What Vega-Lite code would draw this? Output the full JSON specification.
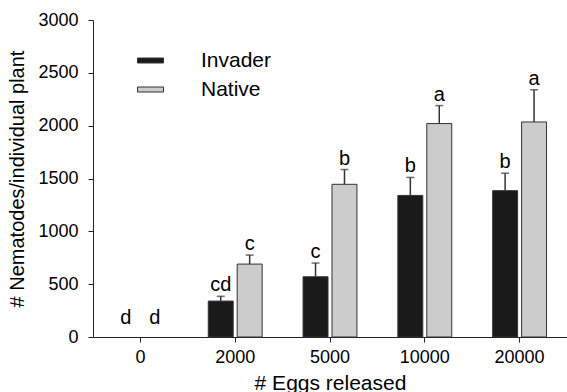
{
  "$schema": "https://vega.github.io/schema/vega-lite/v6.json",
  "width": 474,
  "height": 317,
  "autosize": {"type": "none"},
  "padding": {"left": 93, "top": 20, "right": 0, "bottom": 55},
  "background": "white",
  "config": {
    "view": {"stroke": null},
    "font": "Liberation Sans",
    "axis": {"domainColor": "#222", "tickColor": "#222", "labelColor": "#000", "titleColor": "#000", "grid": false, "labelFont": "Liberation Sans", "titleFont": "Liberation Sans", "titleFontWeight": "normal"},
    "legend": {"labelFont": "Liberation Sans"}
  },
  "data": {
    "values": [
      {"eggs": "0", "type": "Invader", "mean": 0, "upper": 0, "letter": "d", "ly": 75},
      {"eggs": "0", "type": "Native", "mean": 0, "upper": 0, "letter": "d", "ly": 75},
      {"eggs": "2000", "type": "Invader", "mean": 340, "upper": 385, "letter": "cd", "ly": 385},
      {"eggs": "2000", "type": "Native", "mean": 690, "upper": 775, "letter": "c", "ly": 775},
      {"eggs": "5000", "type": "Invader", "mean": 570, "upper": 700, "letter": "c", "ly": 700},
      {"eggs": "5000", "type": "Native", "mean": 1445, "upper": 1585, "letter": "b", "ly": 1585},
      {"eggs": "10000", "type": "Invader", "mean": 1340, "upper": 1510, "letter": "b", "ly": 1510},
      {"eggs": "10000", "type": "Native", "mean": 2020, "upper": 2190, "letter": "a", "ly": 2190},
      {"eggs": "20000", "type": "Invader", "mean": 1385, "upper": 1550, "letter": "b", "ly": 1550},
      {"eggs": "20000", "type": "Native", "mean": 2035, "upper": 2340, "letter": "a", "ly": 2340}
    ]
  },
  "encoding": {
    "x": {
      "field": "eggs", "type": "nominal", "sort": ["0", "2000", "5000", "10000", "20000"],
      "scale": {"paddingInner": 0, "paddingOuter": 0},
      "axis": {"title": "# Eggs released", "labelAngle": 0, "labelFontSize": 18, "titleFontSize": 21, "tickSize": 5, "labelPadding": 6, "titlePadding": 6, "domainWidth": 1}
    },
    "xOffset": {"field": "type", "type": "nominal", "sort": ["Invader", "Native"], "scale": {"paddingInner": 0.138, "paddingOuter": 0.707}}
  },
  "layer": [
    {
      "transform": [{"filter": "datum.mean > 0"}],
      "mark": {"type": "bar", "stroke": "#333", "strokeWidth": 1},
      "encoding": {
        "y": {"field": "mean", "type": "quantitative", "scale": {"domain": [0, 3000], "nice": false},
              "axis": {"title": "# Nematodes/individual plant", "format": "d", "values": [0, 500, 1000, 1500, 2000, 2500, 3000], "labelFontSize": 18, "titleFontSize": 20, "tickSize": 5, "labelPadding": 10, "titlePadding": 10}},
        "fill": {"field": "type", "type": "nominal", "scale": {"domain": ["Invader", "Native"], "range": ["#1a1a1a", "#cccccc"]},
                 "legend": {"title": null, "orient": "none", "legendX": 47, "legendY": 30, "symbolType": "M-2.6,-0.5H2.6V0.5H-2.6Z", "symbolSize": 100, "symbolStrokeColor": "#333", "symbolStrokeWidth": 1, "labelFontSize": 21, "labelOffset": 40, "rowPadding": 7, "padding": 0, "labelColor": "#000"}}
      }
    },
    {
      "transform": [{"filter": "datum.mean > 0"}],
      "mark": {"type": "rule", "color": "#333", "strokeWidth": 1.5},
      "encoding": {
        "y": {"field": "mean", "type": "quantitative"},
        "y2": {"field": "upper"}
      }
    },
    {
      "transform": [{"filter": "datum.mean > 0"}],
      "mark": {"type": "tick", "color": "#333", "size": 8, "thickness": 1.5},
      "encoding": {
        "y": {"field": "upper", "type": "quantitative"}
      }
    },
    {
      "mark": {"type": "text", "baseline": "bottom", "dy": -1, "fontSize": 20, "color": "#000"},
      "encoding": {
        "y": {"field": "ly", "type": "quantitative"},
        "text": {"field": "letter"}
      }
    }
  ]
}
